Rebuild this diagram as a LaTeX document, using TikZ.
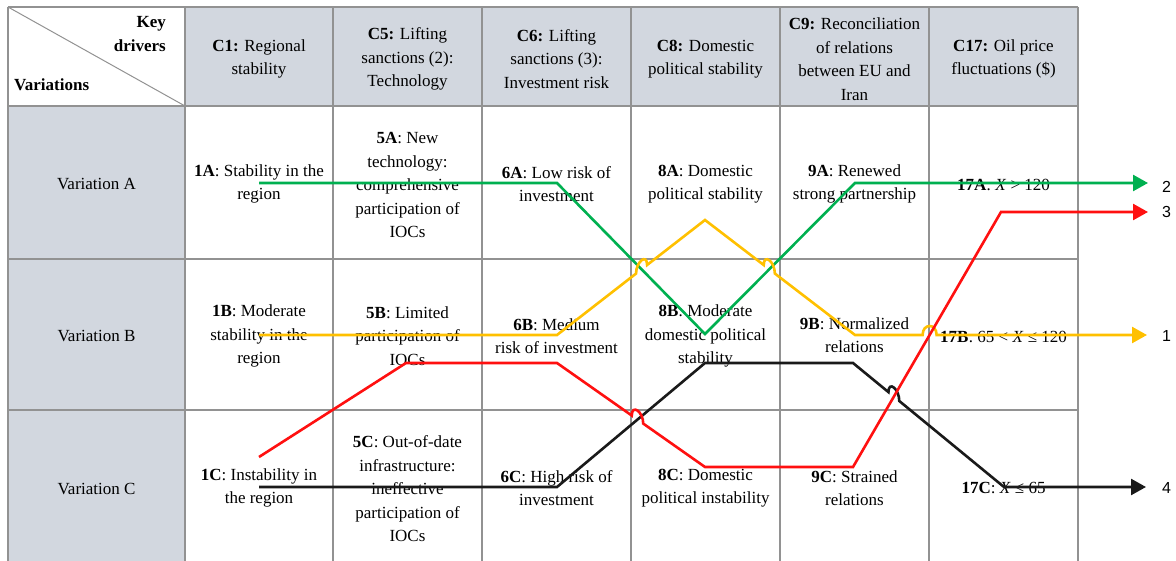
\documentclass[tikz,border=0pt]{standalone}
\usepackage{fontspec}
\setmainfont{Liberation Serif}
\newfontfamily\labelfont{Liberation Sans}
\usetikzlibrary{arrows.meta,calc,intersections}
\definecolor{hdr}{HTML}{D2D7DF}
\definecolor{gridc}{HTML}{929292}
\definecolor{lgreen}{HTML}{00B050}
\definecolor{lyellow}{HTML}{FFC000}
\definecolor{lred}{HTML}{FF1010}
\definecolor{lblack}{HTML}{1A1A1A}
\begin{document}
\begin{tikzpicture}[x=1pt,y=-1pt,
  cell/.style={align=center,inner sep=0pt,font=\fontsize{17}{23.5}\selectfont},
  gridline/.style={draw=gridc,line width=1.6pt},
  route/.style={line width=2.6pt,-{Triangle[length=15pt,width=16pt]}}]
\useasboundingbox (0,0) rectangle (1176,561);
% fills
\fill[hdr] (185,7) rectangle (1078,106);
\fill[hdr] (8,106) rectangle (185,561);
% grid
\foreach \yy in {7,106,259,410} \draw[gridline] (8,\yy) -- (1078,\yy);
\foreach \xx in {8,185,333,482,631,780,929,1078} \draw[gridline] (\xx,7) -- (\xx,561);
\draw[gridline,line width=1pt] (8,7) -- (185,106);
% header
\node[cell,align=right,anchor=east] (kd) at (166,34) {\textbf{Key}\\\textbf{drivers}};
\node[cell,anchor=west] (vr) at (14,85) {\textbf{Variations}};
\node[cell] (h1) at (259,59) {\textbf{C1:} Regional\\stability};
\node[cell] (h5) at (407.5,59) {\textbf{C5:} Lifting\\sanctions (2):\\Technology};
\node[cell] (h6) at (556.5,59) {\textbf{C6:} Lifting\\sanctions (3):\\Investment risk};
\node[cell] (h8) at (705.5,59) {\textbf{C8:} Domestic\\political stability};
\node[cell] (h9) at (854.5,59) {\textbf{C9:} Reconciliation\\of relations\\between EU and\\Iran};
\node[cell] (h17) at (1003.5,59) {\textbf{C17:} Oil price\\fluctuations (\$)};
% row headers
\node[cell] (va) at (96.5,184) {Variation A};
\node[cell] (vb) at (96.5,336) {Variation B};
\node[cell] (vc) at (96.5,489) {Variation C};
% row A
\node[cell] (n1A) at (259,184) {\textbf{1A}: Stability in the\\region};
\node[cell] (n5A) at (407.5,185) {\textbf{5A}: New\\technology:\\comprehensive\\participation of\\IOCs};
\node[cell] (n6A) at (556.5,184) {\textbf{6A}: Low risk of\\investment};
\node[cell] (n8A) at (705.5,184) {\textbf{8A}: Domestic\\political stability};
\node[cell] (n9A) at (854.5,184) {\textbf{9A}: Renewed\\strong partnership};
\node[cell] (n17A) at (1003.5,185) {\textbf{17A}: \textit{X} > 120};
% row B
\node[cell] (n1B) at (259,336) {\textbf{1B}: Moderate\\stability in the\\region};
\node[cell] (n5B) at (407.5,336) {\textbf{5B}: Limited\\participation of\\IOCs};
\node[cell] (n6B) at (556.5,336) {\textbf{6B}: Medium\\risk of investment};
\node[cell] (n8B) at (705.5,336) {\textbf{8B}: Moderate\\domestic political\\stability};
\node[cell] (n9B) at (854.5,335) {\textbf{9B}: Normalized\\relations};
\node[cell] (n17B) at (1003.5,337) {\textbf{17B}: 65 < \textit{X} ≤ 120};
% row C
\node[cell] (n1C) at (259,488) {\textbf{1C}: Instability in\\the region};
\node[cell] (n5C) at (407.5,489) {\textbf{5C}: Out-of-date\\infrastructure:\\ineffective\\participation of\\IOCs};
\node[cell] (n6C) at (556.5,488) {\textbf{6C}: High risk of\\investment};
\node[cell] (n8C) at (705.5,488) {\textbf{8C}: Domestic\\political instability};
\node[cell] (n9C) at (854.5,488) {\textbf{9C}: Strained\\relations};
\node[cell] (n17C) at (1003.5,488) {\textbf{17C}: \textit{X} ≤ 65};
% route points
\coordinate (g1) at (259,183); \coordinate (g2) at (557,183); \coordinate (g3) at (705,334);
\coordinate (g4) at (855,183); \coordinate (g5) at (1148,183);
\coordinate (y1) at (259,335); \coordinate (y2) at (557,335); \coordinate (y3) at (705,220);
\coordinate (y4) at (855,335); \coordinate (y5) at (1147,335);
\coordinate (r1) at (259,457); \coordinate (r2) at (406,363); \coordinate (r3) at (557,363);
\coordinate (r4) at (705,467); \coordinate (r5) at (853,467); \coordinate (r6) at (1001,212);
\coordinate (r7) at (1148,212);
\coordinate (k1) at (259,487); \coordinate (k2) at (557,487); \coordinate (k3) at (705,363);
\coordinate (k4) at (853,363); \coordinate (k5) at (1004,487); \coordinate (k6) at (1146,487);
% crossings
\path[name path=pg23] (g2) -- (g3);
\path[name path=pg34] (g3) -- (g4);
\path[name path=py23] (y2) -- (y3);
\path[name path=py34] (y3) -- (y4);
\path[name path=py45] (y4) -- (y5);
\path[name path=pr34] (r3) -- (r4);
\path[name path=pr56] (r5) -- (r6);
\path[name path=pk23] (k2) -- (k3);
\path[name path=pk45] (k4) -- (k5);
\path[name intersections={of=pg23 and py23,by={X1}}];
\path[name intersections={of=pg34 and py34,by={X2}}];
\path[name intersections={of=py45 and pr56,by={X5}}];
\path[name intersections={of=pr34 and pk23,by={X3}}];
\path[name intersections={of=pk45 and pr56,by={X4}}];
% routes
\draw[route,lgreen] (g1) -- (g2) -- (g3) -- (g4) -- (g5);
\draw[route,lyellow] (y1) -- (y2) -- ($(X1)!7pt!(y2)$) .. controls +(0,-12) and +(0,-12) .. ($(X1)!7pt!(y3)$) -- (y3)
  -- ($(X2)!7pt!(y3)$) .. controls +(0,-12) and +(0,-12) .. ($(X2)!7pt!(y4)$) -- (y4)
  -- ($(X5)!7pt!(y4)$) .. controls +(0,-12) and +(0,-12) .. ($(X5)!7pt!(y5)$) -- (y5);
\draw[route,lblack] (k1) -- (k2) -- (k3) -- (k4)
  -- ($(X4)!7pt!(k4)$) .. controls +(0,-12) and +(0,-12) .. ($(X4)!7pt!(k5)$) -- (k5) -- (k6);
\draw[route,lred] (r1) -- (r2) -- (r3)
  -- ($(X3)!7pt!(r3)$) .. controls +(0,-12) and +(0,-12) .. ($(X3)!7pt!(r4)$) -- (r4) -- (r5) -- (r6) -- (r7);
% end labels
\node[cell,font=\labelfont\fontsize{16}{18}\selectfont,anchor=west] (l2) at (1162,187) {2};
\node[cell,font=\labelfont\fontsize{16}{18}\selectfont,anchor=west] (l3) at (1162,212) {3};
\node[cell,font=\labelfont\fontsize{16}{18}\selectfont,anchor=west] (l1) at (1162,336) {1};
\node[cell,font=\labelfont\fontsize{16}{18}\selectfont,anchor=west] (l4) at (1162,488) {4};
\end{tikzpicture}
\end{document}
